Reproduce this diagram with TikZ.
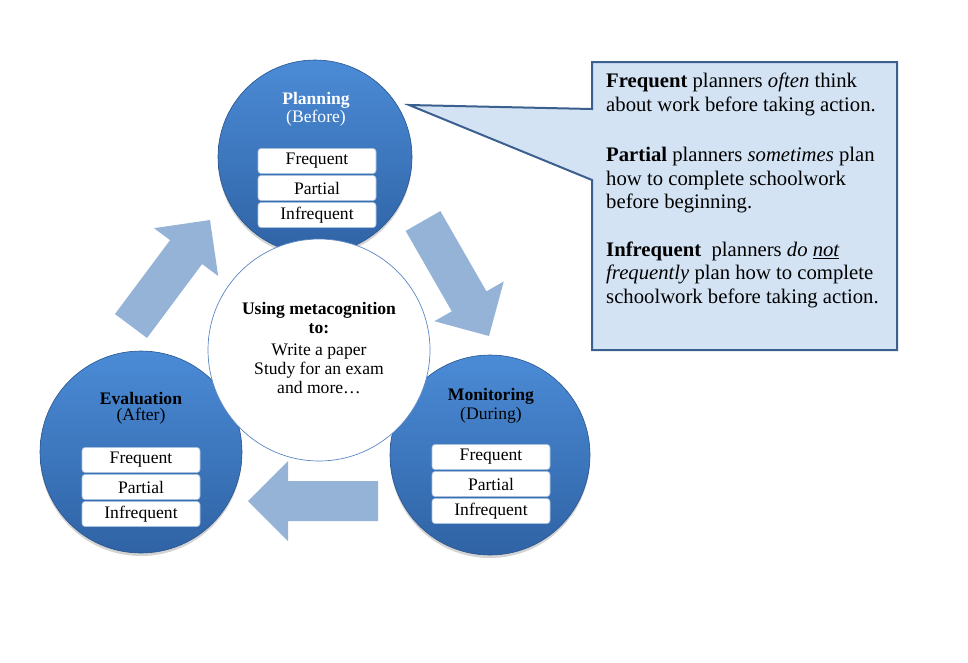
\documentclass[tikz,border=0pt]{standalone}
\usepackage{fontspec}
\setmainfont{Liberation Serif}
\usetikzlibrary{calc,shadows}
\definecolor{circtop}{HTML}{4B8BD6}
\definecolor{circbot}{HTML}{2F63A5}
\definecolor{arrowblue}{HTML}{95B3D7}
\definecolor{callfill}{HTML}{D3E3F4}
\definecolor{callline}{HTML}{3B5F8E}
\definecolor{boxline}{HTML}{A9C0DD}
\definecolor{ringline}{HTML}{5B87C5}
\newcommand\blockarrow[3]{%
  \coordinate (#1t) at #2;
  \coordinate (#1h) at #3;
  \coordinate (#1b) at ($(#1h)!40pt!(#1t)$);
  \fill[arrowblue] ($(#1t)!20pt!90:(#1h)$) -- ($(#1b)!20pt!90:(#1h)$) --
    ($(#1b)!40pt!90:(#1h)$) -- (#1h) -- ($(#1b)!40pt!-90:(#1h)$) --
    ($(#1b)!20pt!-90:(#1h)$) -- ($(#1t)!20pt!-90:(#1h)$) -- cycle;
}
\begin{document}
\begin{tikzpicture}[x=1pt,y=-1pt,
  phase/.style={circle, minimum size=#1, inner sep=0pt, top color=circtop,
    bottom color=circbot, draw=circbot!85!black, line width=0.6pt,
    drop shadow={opacity=0.35, shadow xshift=0pt, shadow yshift=-3pt}},
  level/.style={rectangle, rounded corners=3pt, fill=white, draw=boxline,
    line width=0.6pt, minimum width=118pt, minimum height=25pt, inner sep=0pt,
    font=\fontsize{17.6}{19}\selectfont},
  ttl/.style={inner sep=0pt, font=\fontsize{17.6}{19}\selectfont\bfseries},
  sub/.style={inner sep=0pt, font=\fontsize{17.6}{19}\selectfont},
  calltext/.style={inner sep=0pt, align=left, anchor=north west,
    font=\fontsize{20.7}{23.5}\selectfont}]
\useasboundingbox (0,0) rectangle (968,662);

% block arrows
\blockarrow{aone}{(131,326)}{(210,220)}
\blockarrow{atwo}{(423,221)}{(489,336)}
\blockarrow{athree}{(378,501)}{(248,501)}

% Evaluation
\node[phase=202pt] (eval) at (141,452) {};
\node[ttl] (evalt) at (141,398) {Evaluation};
\node[sub] (evals) at (141,416) {(After)};
\node[level] (e1) at (141,460) {Frequent};
\node[level] (e2) at (141,487) {Partial};
\node[level] (e3) at (141,514) {Infrequent};

% Monitoring
\node[phase=200pt] (mon) at (490,455) {};
\node[ttl] (mont) at (491,396) {Monitoring};
\node[sub] (mons) at (491,415) {(During)};
\node[level] (m1) at (491,457) {Frequent};
\node[level] (m2) at (491,484) {Partial};
\node[level] (m3) at (491,511) {Infrequent};

% Planning
\node[phase=194pt] (plan) at (315,157) {};
\node[ttl, text=white] (plant) at (316,100) {Planning};
\node[sub, text=white] (plans) at (316,118) {(Before)};
\node[level] (p1) at (317,161) {Frequent};
\node[level] (p2) at (317,188) {Partial};
\node[level] (p3) at (317,215) {Infrequent};

% Centre
\node[circle, minimum size=222pt, inner sep=0pt, fill=white, draw=ringline,
  line width=0.7pt] (centre) at (319,350) {};
\node[ttl, align=center] (ct) at (319,318) {Using metacognition\\to:};
\node[sub, align=center] (cl) at (319,369) {Write a paper\\Study for an exam\\and more…};

% Callout
\coordinate (tip) at (409,105);
\filldraw[fill=callfill, draw=callline, line width=2pt, line join=miter]
  (592,62) -- (897,62) -- (897,350) -- (592,350) -- (592,180) -- (tip) --
  (592,109) -- cycle;
\node[calltext] (call) at (606,73) {%
  \textbf{Frequent} planners \textit{often} think\\
  about work before taking action.\\[27pt]
  \textbf{Partial} planners \textit{sometimes} plan\\
  how to complete schoolwork\\
  before beginning.\\[24pt]
  \textbf{Infrequent}\ \ planners \textit{do \underline{not}}\\
  \textit{frequently} plan how to complete\\
  schoolwork before taking action.};
\end{tikzpicture}
\end{document}
